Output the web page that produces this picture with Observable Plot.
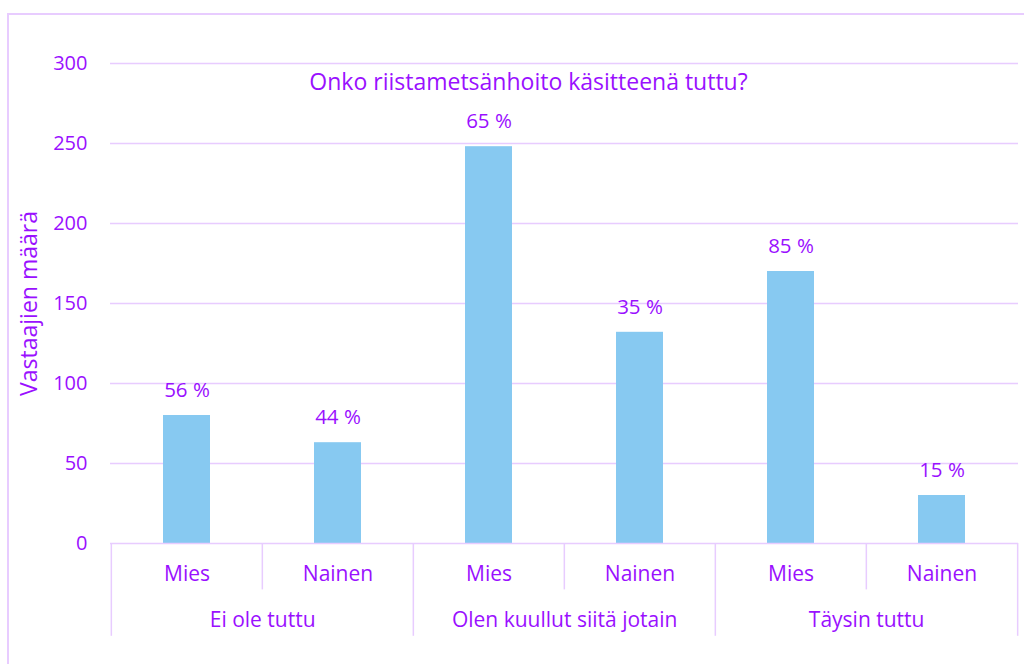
<!DOCTYPE html>
<html>
<head>
<meta charset="utf-8">
<script src="https://cdn.jsdelivr.net/npm/d3@7"></script>
<script src="https://cdn.jsdelivr.net/npm/@observablehq/plot@0.6"></script>
<style>
  html, body { margin: 0; padding: 0; background: #fff; overflow: hidden; width: 1024px; height: 664px; }
  #wrap { position: relative; width: 1024px; height: 664px; }
  #border { position: absolute; left: 7px; top: 13px; width: 1100px; height: 700px; border: 2px solid #E8CCFF; box-sizing: border-box; }
  #chart { position: absolute; left: 0; top: 0; }
</style>
</head>
<body>
<div id="wrap"><div id="border"></div><div id="chart"></div></div>
<script>
const groups = ["Ei ole tuttu", "Ei ole tuttu", "Olen kuullut siitä jotain", "Olen kuullut siitä jotain", "Täysin tuttu", "Täysin tuttu"];
const genders = ["Mies", "Nainen", "Mies", "Nainen", "Mies", "Nainen"];
const counts = [80, 63, 248, 132, 170, 30];
const percents = [56, 44, 65, 35, 85, 15];
const yTicks = [0, 50, 100, 150, 200, 250, 300];
const title = "Onko riistametsänhoito käsitteenä tuttu?";
const yLabel = "Vastaajien määrä";

const data = groups.map((g, i) => ({
  key: g + "|" + genders[i], group: g, gender: genders[i], count: counts[i], pct: percents[i], idx: i
}));

const W = 1024, H = 664, mL = 110, mR = 6, mT = 63, mB = 121;
const step = (W - mL - mR) / data.length;
const half = step / 2;
const purple = "#9A10FF";
const lav = "#E8CCFF";
const font = "'Open Sans', sans-serif";
const shortTick = -29, longTick = -58;

const plot = Plot.plot({
  width: W, height: H,
  marginLeft: mL, marginRight: mR, marginTop: mT, marginBottom: mB,
  style: { fontFamily: font, background: "transparent", overflow: "visible" },
  x: { type: "band", domain: data.map(d => d.key), paddingInner: 0.69, paddingOuter: 0.345, axis: null },
  y: { domain: [0, 300], ticks: yTicks, axis: null },
  marks: [
    Plot.gridY(yTicks.filter(t => t > 0), { stroke: lav, strokeOpacity: 1, strokeWidth: 1.5 }),
    Plot.axisY({ ticks: yTicks, tickSize: 0, tickPadding: 23, fontSize: 20, fill: purple, label: null }),
    Plot.barY(data, { x: "key", y: "count", fill: "#87C9F1" }),
    Plot.ruleY([0], { stroke: lav, strokeWidth: 1.5 }),
    Plot.ruleX(data, { x: "key", dx: -half, y1: 0, y2: d => d.idx % 2 === 0 ? longTick : shortTick, stroke: lav, strokeWidth: 1.5 }),
    Plot.ruleX(data.slice(-1), { x: "key", dx: half, y1: 0, y2: longTick, stroke: lav, strokeWidth: 1.5 }),
    Plot.text(data, { x: "key", y: "count", text: d => d.pct + " %", dy: -25, fontSize: 20.5, fill: purple, lineAnchor: "middle" }),
    Plot.text(data, { x: "key", y: 0, text: "gender", dy: 31, fontSize: 21, fill: purple, lineAnchor: "middle" }),
    Plot.text(data.filter(d => d.gender === "Mies"), { x: "key", y: 0, text: "group", dx: half, dy: 77, fontSize: 21, fill: purple, lineAnchor: "middle" }),
    Plot.text([title], { frameAnchor: "top", text: d => d, dx: (528 - (mL + (W - mL - mR) / 2)), dy: 19, fontSize: 23, fill: purple, lineAnchor: "middle" }),
    Plot.text([yLabel], { frameAnchor: "left", textAnchor: "middle", text: d => d, dx: -81, dy: 0, rotate: -90, fontSize: 23, fill: purple, lineAnchor: "middle" })
  ]
});
document.getElementById("chart").appendChild(plot);
</script>
</body>
</html>
